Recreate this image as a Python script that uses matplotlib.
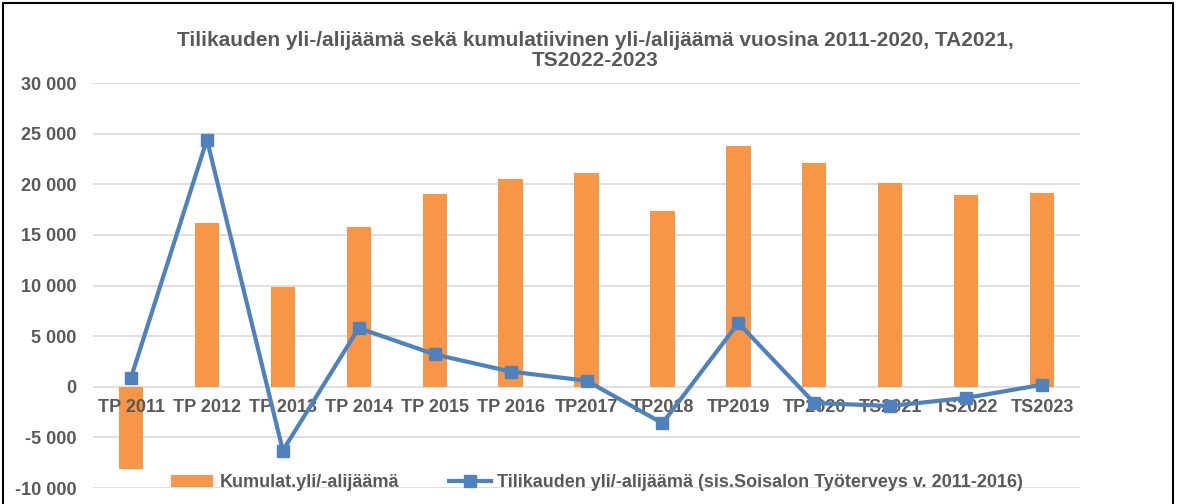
import matplotlib.pyplot as plt
from matplotlib.patches import Rectangle
from matplotlib.ticker import FuncFormatter

plt.rcParams['font.family'] = ['Liberation Sans', 'DejaVu Sans']

# Data
categories = ['TP 2011', 'TP 2012', 'TP 2013', 'TP 2014', 'TP 2015', 'TP 2016',
              'TP2017', 'TP2018', 'TP2019', 'TP2020', 'TS2021', 'TS2022', 'TS2023']
kumulat = [-8100, 16200, 9900, 15800, 19000, 20500, 21100, 17400, 23800,
           22100, 20100, 18900, 19100]
tilikausi = [900, 24400, -6300, 5800, 3200, 1500, 600, -3600, 6300,
             -1600, -1900, -1100, 200]

bar_color = '#F79646'
line_color = '#4F81BD'
text_color = '#595959'

fig = plt.figure(figsize=(11.78, 5.04), dpi=100)
ax = fig.add_axes([0.079, 0.0317, 0.8378, 0.8036])

x = list(range(len(categories)))
bars = ax.bar(x, kumulat, width=0.32, color=bar_color, zorder=2,
              label='Kumulat.yli/-alijäämä')
line, = ax.plot(x, tilikausi, color=line_color, linewidth=3, marker='s',
                markersize=8, zorder=3,
                label='Tilikauden yli/-alijäämä (sis.Soisalon Työterveys v. 2011-2016)')

ax.set_xlim(-0.5, len(categories) - 0.5)
ax.set_ylim(-10000, 30000)
ax.set_yticks(range(-10000, 30001, 5000))
ax.yaxis.set_major_formatter(FuncFormatter(lambda v, p: f"{int(v):,}".replace(',', ' ')))
ax.grid(axis='y', color='#D9D9D9', linewidth=1.2, zorder=0)
ax.set_axisbelow(True)

for s in ax.spines.values():
    s.set_visible(False)
ax.spines['bottom'].set_position(('data', 0))

ax.set_xticks(x)
ax.set_xticklabels(categories)
ax.tick_params(axis='x', length=0, pad=9, labelsize=13, labelcolor=text_color)
ax.tick_params(axis='y', length=0, pad=12, labelsize=13, labelcolor=text_color)
for lab in ax.get_xticklabels() + ax.get_yticklabels():
    lab.set_fontweight('bold')
# category labels sit above the bars but under the line
ax.xaxis.set_zorder(2.5)

fig.text(0.505, 0.9,
         'Tilikauden yli-/alijäämä sekä kumulatiivinen yli-/alijäämä vuosina 2011-2020, TA2021,\nTS2022-2023',
         ha='center', va='center', fontsize=15, fontweight='bold',
         color=text_color, linespacing=1.05)

leg = fig.legend(handles=[bars, line], loc='center', bbox_to_anchor=(0.507, 0.042),
                 ncol=2, frameon=False, fontsize=13, handlelength=2.3,
                 columnspacing=2.8, handletextpad=0.35, borderaxespad=0,
                 borderpad=0)
for t in leg.get_texts():
    t.set_color(text_color)
    t.set_fontweight('bold')

# chart border
fig.patches.append(Rectangle((0.0025, -0.05), 0.993, 1.044, transform=fig.transFigure,
                             fill=False, edgecolor='black', linewidth=1.5))

fig.savefig('out.png', dpi=100)
